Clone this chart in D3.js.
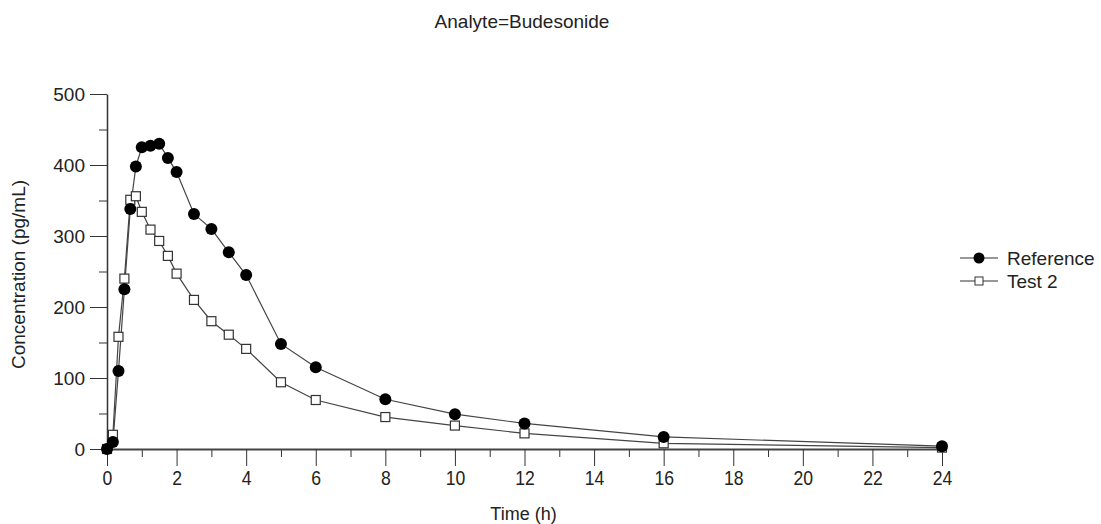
<!DOCTYPE html>
<html>
<head>
<meta charset="utf-8">
<script src="https://cdn.jsdelivr.net/npm/d3@7"></script>
<style>
  body { margin: 0; background: #fff; }
  text { font-family: "Liberation Sans", Arial, sans-serif; fill: #222; }
</style>
</head>
<body>
<div id="chart"></div>
<script>
// Sampling times (h)
var times = [0, 0.17, 0.33, 0.5, 0.67, 0.83, 1, 1.25, 1.5, 1.75, 2, 2.5, 3, 3.5, 4, 5, 6, 8, 10, 12, 16, 24];

// Concentrations (pg/mL)
var referenceConc = [0, 10, 110, 225, 338, 398, 425, 427, 430, 410, 390, 331, 310, 277, 245, 148, 115, 70, 49, 36, 17, 4];
var test2Conc = [0, 20, 158, 240, 351, 356, 334, 309, 293, 272, 247, 210, 180, 161, 141, 94, 69, 45, 33, 22, 8, 2];

var xTicks = [0, 2, 4, 6, 8, 10, 12, 14, 16, 18, 20, 22, 24];
var yTicks = [0, 100, 200, 300, 400, 500];

var width = 1101, height = 524;
var margin = {top: 94, right: 159, bottom: 75, left: 107};
var chartWidth = width - margin.left - margin.right;
var chartHeight = height - margin.top - margin.bottom;

var svg = d3.select("#chart").append("svg")
    .attr("width", width)
    .attr("height", height);

// Title
svg.append("text")
    .attr("x", 522)
    .attr("y", 28)
    .attr("text-anchor", "middle")
    .attr("font-size", "19px")
    .text("Analyte=Budesonide");

var chartGroup = svg.append("g")
    .attr("transform", `translate(${margin.left}, ${margin.top})`);

var xScale = d3.scaleLinear().domain([0, 24]).range([0, chartWidth]);
var yScale = d3.scaleLinear().domain([0, 500]).range([chartHeight, 0]);

// Minor ticks
chartGroup.append("g")
    .attr("transform", `translate(0, ${chartHeight})`)
    .call(d3.axisBottom(xScale).tickValues(d3.range(1, 24, 2)).tickSize(8).tickFormat(""))
    .call(g => g.select(".domain").remove());
chartGroup.append("g")
    .call(d3.axisLeft(yScale).tickValues(d3.range(50, 500, 100)).tickSize(8).tickFormat(""))
    .call(g => g.select(".domain").remove());

// Major axes
var xAxisG = chartGroup.append("g")
    .attr("transform", `translate(0, ${chartHeight})`)
    .call(d3.axisBottom(xScale).tickValues(xTicks).tickSize(17).tickSizeOuter(0).tickPadding(5));
xAxisG.selectAll("text")
    .attr("font-size", "20px")
    .attr("fill", "#222")
    .attr("transform", "scale(0.88, 1)");
xAxisG.select(".domain").attr("stroke", "#444").attr("stroke-width", 2);

var yAxisG = chartGroup.append("g")
    .call(d3.axisLeft(yScale).tickValues(yTicks).tickSize(17).tickSizeOuter(0).tickPadding(5));
yAxisG.selectAll("text").attr("font-size", "19px").attr("fill", "#222");
yAxisG.select(".domain").attr("stroke", "#333").attr("stroke-width", 1.5);
chartGroup.selectAll(".tick line").attr("stroke", "#333");
chartGroup.selectAll("g").attr("font-family", null);

// Axis labels
chartGroup.append("text")
    .attr("x", xScale(12) - 1)
    .attr("y", chartHeight + 71)
    .attr("text-anchor", "middle")
    .attr("font-size", "18px")
    .text("Time (h)");

chartGroup.append("text")
    .attr("transform", "rotate(-90)")
    .attr("x", -yScale(250) - 3)
    .attr("y", -82)
    .attr("text-anchor", "middle")
    .attr("font-size", "19px")
    .text("Concentration (pg/mL)");

var line = d3.line()
    .x(function(d) { return xScale(d[0]); })
    .y(function(d) { return yScale(d[1]); });

var refData = times.map(function(t, i) { return [t, referenceConc[i]]; });
var testData = times.map(function(t, i) { return [t, test2Conc[i]]; });

chartGroup.append("path")
    .datum(testData)
    .attr("d", line)
    .attr("fill", "none")
    .attr("stroke", "#444")
    .attr("stroke-width", 1.2);

chartGroup.append("path")
    .datum(refData)
    .attr("d", line)
    .attr("fill", "none")
    .attr("stroke", "#444")
    .attr("stroke-width", 1.2);

// Test 2 markers (open squares)
chartGroup.selectAll(".sq")
    .data(testData)
    .enter()
    .append("rect")
    .attr("x", function(d) { return xScale(d[0]) - 4.5; })
    .attr("y", function(d) { return yScale(d[1]) - 4.5; })
    .attr("width", 9)
    .attr("height", 9)
    .attr("fill", "white")
    .attr("stroke", "#333")
    .attr("stroke-width", 1.2);

// Reference markers (filled circles)
chartGroup.selectAll(".dot")
    .data(refData)
    .enter()
    .append("circle")
    .attr("cx", function(d) { return xScale(d[0]); })
    .attr("cy", function(d) { return yScale(d[1]); })
    .attr("r", 6)
    .attr("fill", "black");

// Legend
var legend = svg.append("g").attr("transform", "translate(960, 258)");
legend.append("line").attr("x1", 0).attr("x2", 38).attr("y1", 0).attr("y2", 0).attr("stroke", "#333").attr("stroke-width", 1.2);
legend.append("circle").attr("cx", 19).attr("cy", 0).attr("r", 5.5).attr("fill", "black");
legend.append("text").attr("x", 47).attr("y", 7).attr("font-size", "19px").text("Reference");

legend.append("line").attr("x1", 0).attr("x2", 38).attr("y1", 23).attr("y2", 23).attr("stroke", "#333").attr("stroke-width", 1.2);
legend.append("rect").attr("x", 15).attr("y", 19).attr("width", 8).attr("height", 8).attr("fill", "white").attr("stroke", "#333");
legend.append("text").attr("x", 47).attr("y", 30).attr("font-size", "19px").text("Test 2");
</script>
</body>
</html>
